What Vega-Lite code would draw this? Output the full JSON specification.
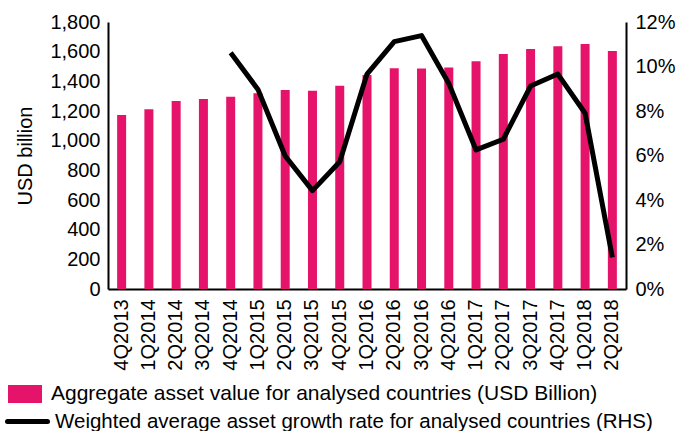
{
  "$schema": "https://vega.github.io/schema/vega-lite/v6.json",
  "width": 518,
  "height": 267,
  "autosize": {"type": "none"},
  "padding": {"left": 108, "top": 22, "right": 54, "bottom": 142},
  "config": {
    "font": "Liberation Sans",
    "view": {"stroke": null},
    "axis": {
      "labelFont": "Liberation Sans",
      "labelFontSize": 20,
      "labelColor": "#000000",
      "domainColor": "#000000",
      "domainWidth": 2,
      "ticks": false,
      "grid": false,
      "titleFont": "Liberation Sans",
      "titleFontWeight": "normal",
      "titleColor": "#000000"
    },
    "legend": {
      "labelFont": "Liberation Sans",
      "labelFontSize": 21,
      "labelColor": "#000000",
      "labelLimit": 800
    }
  },
  "data": {
    "values": [
      {"quarter": "4Q2013", "assets": 1173, "growth": null},
      {"quarter": "1Q2014", "assets": 1211, "growth": null},
      {"quarter": "2Q2014", "assets": 1267, "growth": null},
      {"quarter": "3Q2014", "assets": 1281, "growth": null},
      {"quarter": "4Q2014", "assets": 1296, "growth": 0.1062},
      {"quarter": "1Q2015", "assets": 1319, "growth": 0.0897},
      {"quarter": "2Q2015", "assets": 1342, "growth": 0.0598},
      {"quarter": "3Q2015", "assets": 1337, "growth": 0.0442},
      {"quarter": "4Q2015", "assets": 1371, "growth": 0.0572},
      {"quarter": "1Q2016", "assets": 1443, "growth": 0.0966},
      {"quarter": "2Q2016", "assets": 1488, "growth": 0.1112},
      {"quarter": "3Q2016", "assets": 1486, "growth": 0.1139},
      {"quarter": "4Q2016", "assets": 1494, "growth": 0.0924},
      {"quarter": "1Q2017", "assets": 1535, "growth": 0.0625},
      {"quarter": "2Q2017", "assets": 1584, "growth": 0.0673},
      {"quarter": "3Q2017", "assets": 1618, "growth": 0.0912},
      {"quarter": "4Q2017", "assets": 1636, "growth": 0.0966},
      {"quarter": "1Q2018", "assets": 1652, "growth": 0.079},
      {"quarter": "2Q2018", "assets": 1604, "growth": 0.0142}
    ]
  },
  "layer": [
    {
      "mark": {"type": "bar", "size": 9},
      "encoding": {
        "x": {
          "field": "quarter",
          "type": "nominal",
          "sort": null,
          "title": null,
          "axis": {"labelAngle": -90, "labelPadding": 10, "labelAlign": "right", "labelBaseline": "middle"}
        },
        "y": {
          "field": "assets",
          "type": "quantitative",
          "scale": {"domain": [0, 1800]},
          "axis": {"title": "USD billion", "titleFontSize": 20, "titlePadding": 14, "values": [0, 200, 400, 600, 800, 1000, 1200, 1400, 1600, 1800], "format": ",.0f", "labelPadding": 8}
        },
        "fill": {
          "datum": "Aggregate asset value for analysed countries (USD Billion)",
          "type": "nominal",
          "scale": {"range": ["#E6136B"]},
          "legend": {
            "title": null,
            "orient": "none",
            "legendX": -100,
            "legendY": 355,
            "symbolType": "M-1,-0.53H1V0.53H-1Z",
            "symbolSize": 1156,
            "symbolStrokeWidth": 0,
            "labelOffset": 9
          }
        }
      }
    },
    {
      "transform": [{"filter": "datum.growth != null"}],
      "mark": {"type": "line", "strokeWidth": 5, "strokeJoin": "round"},
      "encoding": {
        "x": {"field": "quarter", "type": "nominal", "sort": null},
        "y": {
          "field": "growth",
          "type": "quantitative",
          "scale": {"domain": [0, 0.12]},
          "axis": {"orient": "right", "title": null, "format": ".0%", "values": [0, 0.02, 0.04, 0.06, 0.08, 0.1, 0.12], "labelPadding": 9}
        },
        "stroke": {
          "datum": "Weighted average asset growth rate for analysed countries  (RHS)",
          "type": "nominal",
          "scale": {"range": ["#000000"]},
          "legend": {
            "title": null,
            "orient": "none",
            "legendX": -103,
            "legendY": 377,
            "symbolType": "stroke",
            "symbolSize": 1600,
            "symbolStrokeWidth": 5,
            "labelOffset": 5,
            "labelFontSize": 20.5,
            "encode": {"symbols": {"update": {"strokeWidth": {"value": 5}, "strokeCap": {"value": "round"}}}}
          }
        }
      }
    }
  ],
  "resolve": {"scale": {"y": "independent", "x": "shared"}}
}
